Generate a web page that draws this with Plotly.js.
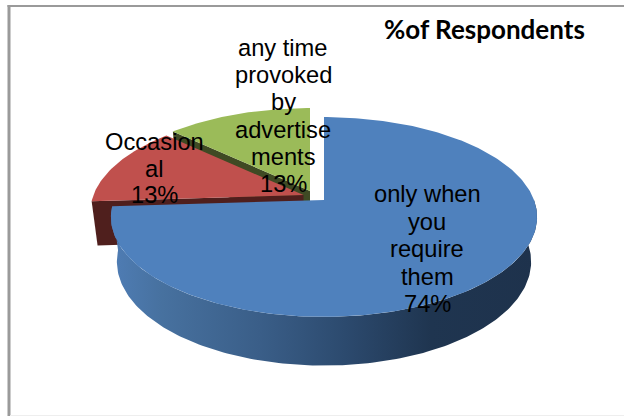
<!DOCTYPE html>
<html>
<head>
<meta charset="utf-8">
<script src="https://cdn.plot.ly/plotly-3.0.1.min.js"></script>
<style>html,body{margin:0;padding:0;background:#fff}#chart{width:624px;height:416px}</style>
</head>
<body>
<div id="chart"></div>
<script>
// Survey shares, drawn clockwise from twelve o'clock
const categories = ['only when you require them', 'Occasional', 'any time provoked by advertisements'];
const shares = [74, 13, 13];
const labelLines = [
  ['only when', 'you', 'require', 'them', '74%'],
  ['Occasion', 'al', '13%'],
  ['any time', 'provoked', 'by', 'advertise', 'ments', '13%']
];
const chartTitle = '%of Respondents';

const topColors = ['#4f81bd', '#c0504d', '#9bbb59'];
const sideColors = ['#4f1f1d', '#4f1f1d', '#3f4a24'];

// Tilted-disc projection: a circle seen in perspective, with a separate hub per exploded slice
const hubs = [{x: 324, y: 200}, {x: 303.5, y: 195}, {x: 310, y: 191}];
const radiusX = 210, radiusY = 97, perspective = 0.17;
const depth = 44, baseScaleX = 0.972, baseScaleY = 1.04;
const labelAnchors = [{x: 427, y: 194}, {x: 154, y: 142}, {x: 283, y: 48}];
const lineStep = [27.5, 26.5, 27.2];

function project(hub, deg, base) {
  const a = deg * Math.PI / 180;
  const u = Math.sin(a), v = Math.cos(a), w = 1 + perspective * v;
  const sx = base ? baseScaleX : 1, sy = base ? baseScaleY : 1;
  return {
    x: hub.x + radiusX * sx * u / w,
    y: hub.y + (base ? depth : 0) - radiusY * sy * v / w
  };
}

function arc(hub, from, to, base) {
  const pts = [];
  const n = Math.max(2, Math.ceil(Math.abs(to - from)));
  for (let i = 0; i <= n; i++) pts.push(project(hub, from + (to - from) * i / n, base));
  return pts;
}

function poly(pts, color, extra) {
  return Object.assign({
    type: 'scatter', mode: 'lines', hoverinfo: 'skip', showlegend: false,
    x: pts.map(p => p.x).concat(pts[0].x), y: pts.map(p => p.y).concat(pts[0].y),
    line: {width: 0}, fill: 'toself', fillcolor: color
  }, extra || {});
}

// Cumulative start and end angle of every slice
const total = shares.reduce((s, v) => s + v, 0);
let run = 0;
const spans = shares.map(v => { const s = {from: run, to: run + v / total * 360}; run = s.to; return s; });

function wedge(i) {
  const h = hubs[i], s = spans[i];
  return [{x: h.x, y: h.y}].concat(arc(h, s.from, s.to, false));
}

// Flat radial face between the hub and the rim at one angle
function cutFace(i, deg) {
  const h = hubs[i];
  const hubBase = {x: h.x, y: h.y + depth};
  return [{x: h.x, y: h.y}, project(h, deg, false), project(h, deg, true), hubBase];
}

const traces = [];
// Back to front: green, red, blue
traces.push(poly(cutFace(2, spans[2].from), sideColors[2]));
traces.push(poly(wedge(2), topColors[2]));
traces.push(poly(cutFace(1, spans[1].from), sideColors[1]));
traces.push(poly(wedge(1), topColors[1]));

// Outer wall of the large slice, shaded left to right
const wallFrom = spans[0].to, wallTo = 90;
const wall = arc(hubs[0], wallFrom, wallTo, false).concat(arc(hubs[0], wallTo, wallFrom, true));
traces.push(poly(wall, '#2c4a6e', {
  fillgradient: {
    type: 'horizontal',
    colorscale: [[0, '#4f7db5'], [0.12, '#47719f'], [0.35, '#3a5e88'], [0.55, '#2c4a6e'], [0.75, '#1f3550'], [1, '#1e324c']]
  }
}));
traces.push(poly(wedge(0), topColors[0]));

const annotations = [];
labelLines.forEach((lines, i) => {
  lines.forEach((text, k) => {
    annotations.push({
      xref: 'x', yref: 'y', x: labelAnchors[i].x, y: labelAnchors[i].y + k * lineStep[i],
      text, showarrow: false, xanchor: 'center', yanchor: 'middle',
      font: {family: 'Liberation Sans, Arial, sans-serif', size: 23.7, color: '#000'}
    });
  });
});
annotations.push({
  xref: 'x', yref: 'y', x: 484, y: 29, text: '<b>' + chartTitle + '</b>', showarrow: false,
  xanchor: 'center', yanchor: 'middle',
  font: {family: 'Lato, sans-serif', size: 26, color: '#000'}
});

const layout = {
  width: 624, height: 416,
  margin: {l: 0, r: 0, t: 0, b: 0},
  paper_bgcolor: '#fff', plot_bgcolor: '#fff',
  xaxis: {range: [0, 624], visible: false, fixedrange: true},
  yaxis: {range: [416, 0], visible: false, fixedrange: true},
  showlegend: false,
  annotations,
  shapes: [
    {type: 'line', xref: 'x', yref: 'y', x0: 9, x1: 9, y0: 5, y1: 416, line: {color: '#9a9a9a', width: 3}},
    {type: 'line', xref: 'x', yref: 'y', x0: 7.5, x1: 624, y0: 6, y1: 6, line: {color: '#9a9a9a', width: 2}},
    {type: 'line', xref: 'x', yref: 'y', x0: 10, x1: 624, y0: 415.5, y1: 415.5, line: {color: '#eeeeee', width: 1}}
  ]
};

Plotly.newPlot('chart', traces, layout, {displayModeBar: false, staticPlot: true});
</script>
</body>
</html>
